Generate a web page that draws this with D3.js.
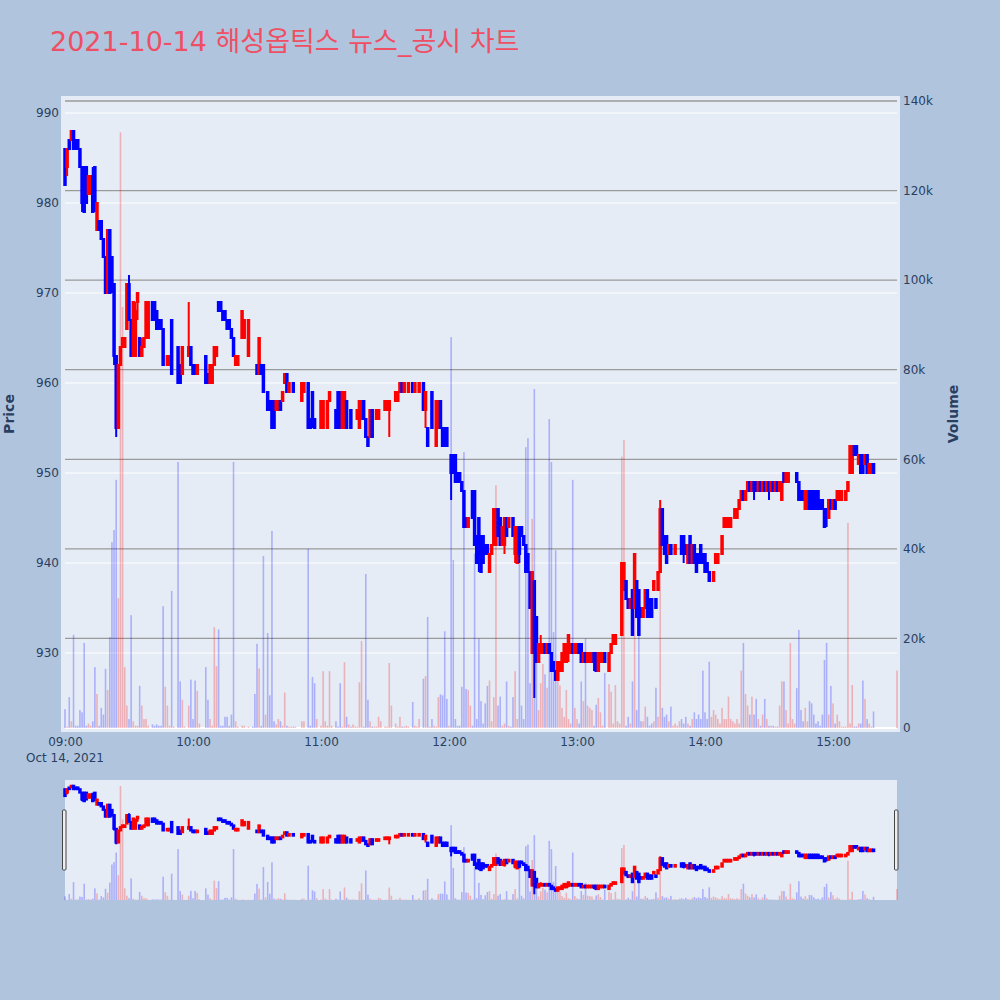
<!DOCTYPE html>
<html>
<head>
<meta charset="utf-8">
<script src="https://cdn.jsdelivr.net/npm/d3@7"></script>
<style>
    body { margin: 0; background: #b0c4de; }
    svg { display: block; font-family: "DejaVu Sans", "Noto Sans CJK KR", sans-serif; }
</style>
</head>
<body>
<svg id="chart" width="1000" height="1000"></svg>
<script>
// 1-minute candles from 09:00 (index = minutes after open), null = no trade
var opens = [
    986,984,987,987,988,987,987,986,984,984, 984,981,981,983,984,977,978,978,976,974,
    970,977,974,971,963,955,962,964,964,966, 971,967,963,963,969,965,963,964,965,965,
    null,969,969,968,967,967,966,962,962,962, 967,961,null,964,962,961,964,null,963,964,
    962,962,961,962,null,null,963,961,960,960, 962,963,969,969,968,968,967,967,966,965,
    962,962,null,965,965,null,963,null,965,963, 962,961,962,962,959,959,958,958,958,957,
    957,958,958,960,961,959,960,960,959,null, null,958,959,null,960,956,959,956,955,null,
    955,955,958,955,958,959,null,957,959,959, 955,955,958,957,957,957,957,956,955,956,
    958,956,954,954,957,957,956,956,957,null, 957,957,957,958,null,958,958,959,960,959,
    960,959,null,960,959,960,959,null,960,957, 955,955,959,955,953,955,958,955,955,955,
    953,952,952,952,950,950,949,948,945,944, 945,948,948,943,945,943,943,942,942,939,
    941,942,942,946,945,942,942,945,944,944, 945,941,940,944,944,943,942,941,939,930,
    938,934,929,930,930,931,930,931,930,929, 928,927,928,928,929,929,930,930,931,930,
    930,931,931,929,930,929,929,929,930,930, 928,929,929,930,null,928,930,931,931,932,
    932,932,937,938,936,935,937,935,938,937, 935,934,935,937,936,936,937,936,937,939,
    946,943,943,941,942,942,941,942,942,943, 943,942,940,943,940,942,941,941,942,941,
    941,940,939,939,938,940,940,941,941,944, 944,944,944,945,945,945,946,947,948,947,
    948,949,948,949,949,948,949,948,949,948, 949,948,949,948,949,948,947,950,949,949,
    950,950,950,950,949,948,948,946,946,948, 948,948,948,948,947,947,946,946,945,947,
    946,947,947,947,947,948,947,948,950,950, 953,953,951,952,952,951,952,950,950,951,
    null,null,null,null,null,null,null,null,null,null, 950
];
var highs = [
    986,986,987,988,988,987,987,986,984,984, 984,983,983,984,984,980,978,978,976,974,
    977,977,974,971,963,962,964,965,965,971, 972,967,969,969,970,965,965,965,969,969,
    null,969,969,968,967,967,966,962,963,963, 967,961,null,964,962,964,964,null,969,964,
    962,962,962,962,null,null,963,961,962,962, 964,964,969,969,968,968,967,967,966,965,
    963,963,null,968,967,null,967,null,965,963, 962,965,962,962,959,959,958,958,958,958,
    958,958,959,961,961,960,960,960,959,null, null,960,960,null,960,956,959,956,955,null,
    958,958,958,958,959,959,null,957,959,959, 959,959,958,957,957,957,957,957,958,958,
    958,956,954,957,957,957,957,957,957,null, 958,958,958,958,null,959,959,960,960,960,
    960,960,null,960,960,960,960,null,960,959, 955,955,959,955,958,958,958,955,955,955,
    953,952,952,952,950,950,949,948,945,945, 945,948,948,943,945,943,943,942,942,941,
    942,946,946,946,945,944,945,945,945,944, 945,944,944,944,944,943,942,941,939,939,
    938,934,931,932,931,931,931,931,930,929, 928,929,929,930,931,931,932,931,931,931,
    931,931,931,930,930,930,930,930,930,930, 930,930,930,930,null,930,931,932,932,932,
    932,940,940,938,936,936,937,941,938,937, 935,935,937,937,936,936,938,936,939,947,
    946,943,943,942,942,942,942,942,942,943, 943,942,942,943,942,942,941,941,942,941,
    941,940,939,939,939,941,941,941,943,945, 945,945,945,945,946,946,947,948,948,948,
    949,949,949,949,949,949,949,949,949,949, 949,949,949,949,949,949,949,950,950,950,
    950,950,950,950,949,948,948,948,948,948, 948,948,948,948,947,947,946,946,947,947,
    947,947,948,948,948,948,948,949,953,953, 953,953,952,952,952,952,952,951,951,951,
    null,null,null,null,null,null,null,null,null,null, 950
];
var lows = [
    982,983,986,987,986,986,986,984,979,979, 980,981,981,979,979,977,977,976,974,970,
    970,970,970,962,954,955,962,964,964,966, 967,963,963,963,967,963,963,964,965,965,
    null,967,967,966,966,966,962,962,962,962, 961,961,null,960,960,961,964,null,963,962,
    961,961,961,962,null,null,960,960,960,960, 962,963,968,968,967,967,966,966,965,963,
    962,962,null,965,965,null,963,null,965,963, 961,961,961,959,959,957,957,955,955,957,
    957,957,958,960,959,959,960,959,959,null, null,958,959,null,955,955,955,955,955,null,
    955,955,958,955,958,959,null,955,955,955, 955,955,955,957,955,957,957,956,955,956,
    956,954,953,954,954,957,956,956,957,null, 957,957,954,958,null,958,958,959,959,959,
    960,959,null,959,959,960,959,null,957,955, 953,955,955,955,953,955,955,953,953,953,
    953,947,950,949,949,949,948,944,944,944, 945,945,942,940,939,939,940,941,941,939,
    941,942,942,943,942,942,941,943,944,944, 943,940,940,940,943,942,939,939,935,930,
    925,929,929,930,930,930,930,930,928,928, 927,927,928,928,929,929,929,930,930,930,
    930,930,929,929,929,929,929,929,928,928, 928,929,929,929,null,928,930,931,931,932,
    932,932,937,936,935,935,932,935,934,932, 934,934,935,934,934,934,937,935,937,939,
    942,941,940,941,941,942,941,942,942,941, 940,941,940,940,940,940,939,940,940,940,
    939,939,938,939,938,940,940,941,941,944, 944,944,944,945,945,945,946,947,947,947,
    948,948,948,947,948,948,948,948,948,948, 947,948,948,948,948,948,947,949,949,949,
    950,950,950,949,947,947,947,946,946,946, 946,946,946,946,946,946,944,944,945,946,
    946,946,947,947,947,948,947,948,950,950, 952,952,951,950,950,951,950,950,950,950,
    null,null,null,null,null,null,null,null,null,null, 950
];
var closes = [
    982,986,986,988,986,986,986,984,980,979, 980,983,983,979,980,980,977,976,974,970,
    977,970,971,963,955,962,964,965,965,971, 967,963,969,968,970,963,964,965,969,969,
    null,967,967,966,966,966,962,962,963,963, 961,961,null,960,960,964,964,null,964,962,
    961,961,962,962,null,null,960,960,962,962, 964,964,968,968,967,967,966,966,965,963,
    963,963,null,968,967,null,967,null,965,963, 961,965,961,959,959,957,957,955,955,958,
    958,957,959,961,959,960,960,959,959,null, null,960,960,null,955,955,956,955,955,null,
    958,958,958,958,959,959,null,955,955,955, 959,959,955,957,955,957,957,957,958,958,
    956,954,953,957,954,957,957,957,957,null, 958,958,958,958,null,959,959,960,959,960,
    960,960,null,959,960,960,960,null,957,959, 953,955,955,955,958,958,955,953,953,953,
    953,950,950,949,949,949,948,944,944,945, 945,945,942,940,941,939,940,941,941,941,
    942,946,946,943,942,944,945,943,945,944, 943,944,944,941,943,942,939,939,935,939,
    930,929,931,931,931,930,931,930,928,928, 927,929,929,930,931,931,932,931,930,931,
    931,930,929,930,929,930,930,930,929,928, 930,930,930,929,null,930,931,932,932,932,
    932,940,940,936,935,936,932,941,934,932, 934,935,937,934,934,934,938,935,939,946,
    942,941,940,942,941,942,942,942,942,941, 941,941,942,940,942,940,939,940,940,940,
    939,939,938,939,939,941,941,941,943,945, 945,945,945,945,946,946,947,948,947,948,
    949,948,949,948,948,949,948,949,948,949, 948,949,948,949,948,949,949,949,950,950,
    950,950,950,949,947,947,947,948,948,946, 946,946,946,946,946,946,944,945,947,946,
    947,946,948,948,948,948,948,949,953,953, 952,952,952,950,950,952,950,951,951,950,
    null,null,null,null,null,null,null,null,null,null, 950
];
// traded volume per minute, thousand shares
var volumes = [
    4.2,0.3,6.9,1.5,20.8,0.5,0.5,4,3.5,19, 0.5,1,0.5,1.5,13.6,7.6,0.5,4.5,3,13.2,
    8.5,20.3,41.5,44.2,55.4,29,133,94,13.6,5, 2,25.2,1.5,0.5,0.5,9.4,5,2,2,0.5,
    null,0.8,0.5,0.8,0.5,0.5,27.2,9.2,5,0.5, 30.6,0.3,null,59.4,10.4,6.3,0.3,null,5,10.8,
    2,10.6,8.3,1,null,null,13.6,6.3,2,0.5, 22.5,13.8,22,0.5,0.5,2.5,2.5,0.5,3,59.4,
    1.5,0.3,null,0.5,0.5,null,0.3,null,0.3,7.6, 18.8,13.3,0.5,38.4,3,21.2,7.3,44,1.5,0.8,
    2,1.5,0.5,7.9,0.5,0.3,0.3,0.3,0.3,null, null,1.5,1.5,null,40,0.5,11.4,10,2,null,
    0.5,12.7,1.5,0.5,12.7,0.5,null,1.5,0.3,10, 0.3,14.7,2.5,0.8,0.3,0.8,0.3,0.3,10.2,19.4,
    0.3,34.4,6.3,1.5,0.3,0.3,0.3,2.5,1.5,null, 0.3,0.3,14.5,5,null,1,0.3,2.5,0.3,0.3,
    0.5,0.3,null,5.8,0.5,0.3,2,null,11,11.6, 24.8,0.3,2,0.5,0.3,6.9,7.5,7.3,21.6,6.5,
    0.5,87.3,37.5,2,0.5,0.5,9.2,61.6,8.7,8.5, 5,0.5,39,2,20,6,1,5.5,9.4,10.6,
    1.5,6.9,54.2,5,7,0.5,1,10.4,0.5,0.3, 6.9,12.7,2,36.8,5,2,62.7,64.7,10,46.7,
    75.7,21.4,4,10,14.3,12,9,69,59.4,21.4, 39.7,10.8,9.5,4.5,2.5,8.5,2,1,55.4,4.5,
    2,1,10.4,6,20,5,4.5,4,0.5,5.2, 6.7,3.5,0.5,12.3,null,9.8,8.1,1,9.6,1.5,
    1,60.6,64.3,0.5,2.5,1,10.4,38.4,4,21, 1.5,1.5,4.8,2.5,0.5,1,1.5,9,2.5,50.9,
    4.5,2.5,3,1.5,4.8,0.5,1,0.5,1.5,2, 1,2.5,1,0.5,2,3.5,2,3,2,12.8,
    3.5,2,14.8,2.5,4,3,2,1,4.5,2, 2,7,2,1.5,1,2,1,12.8,19,7.6,
    5,3,7,3,6.5,2,0.5,3,6.5,2, 0.5,0.5,0.5,0.3,0.3,5,10.4,10.4,4,1,
    19,2,1,8.9,21.9,4,1.5,4.5,1.5,6, 5.5,3,1,1.5,0.5,3,15.2,19,3,9.4,
    5.5,1,3,1.5,0.3,0.3,0.3,45.8,1,9.6, 0.3,0.3,1,1,10.6,6.5,2,1,0.3,3.7,
    null,null,null,null,null,null,null,null,null,null, 12.8
];

var priceTicks = [930, 940, 950, 960, 970, 980, 990];
var volumeTicks = [0, 20, 40, 60, 80, 100, 120, 140];
var hourTicks = [9, 10, 11, 12, 13, 14, 15];
var titleText = "2021-10-14 해성옵틱스 뉴스_공시 차트";

var upColor = "#ff0000";
var downColor = "#0000ff";
var textColor = "#2a3f5f";

var startTime = new Date(2021, 9, 14, 9, 0);
var endTime = new Date(2021, 9, 14, 15, 30);

// build candle objects, skip minutes without trades
var candles = [];
var prevClose = null;
opens.forEach(function (o, i) {
    if (o === null) return;
    var c = closes[i];
    var up = c > o || (c === o && prevClose !== null && c >= prevClose);
    candles.push({ t: d3.timeMinute.offset(startTime, i), o: o, h: highs[i], l: lows[i], c: c, v: volumes[i], up: up });
    prevClose = c;
});

var svg = d3.select("#chart");

// scales
var x = d3.scaleTime().domain([startTime, endTime]).range([65, 897]);
var yPrice = d3.scaleLinear().domain([921.667, 991.333]).range([728, 101]);
var yVol = d3.scaleLinear().domain([0, 140]).range([728, 101]);
var ySlidePrice = yPrice.copy().range([900, 780]);
var ySlideVol = yVol.copy().range([900, 780]);

var minuteW = x(d3.timeMinute.offset(startTime, 1)) - x(startTime);
var boxHalf = minuteW * 0.35;
var barW = minuteW * 0.75;

// plot background
svg.append("rect")
    .attr("x", 61).attr("y", 96)
    .attr("width", 839).attr("height", 636)
    .attr("fill", "#e5ecf6");

// price grid (white)
svg.append("g").selectAll("line")
    .data(priceTicks)
    .enter().append("line")
    .attr("x1", 65).attr("x2", 897)
    .attr("y1", function (d) { return yPrice(d); })
    .attr("y2", function (d) { return yPrice(d); })
    .attr("stroke", "#ffffff").attr("stroke-width", 1);

// volume grid (grey)
svg.append("g").selectAll("line")
    .data(volumeTicks.filter(function (d) { return d > 0; }))
    .enter().append("line")
    .attr("x1", 65).attr("x2", 897)
    .attr("y1", function (d) { return yVol(d); })
    .attr("y2", function (d) { return yVol(d); })
    .attr("stroke", "#9a9a9a").attr("stroke-width", 1.3);

// volume zero line
svg.append("line")
    .attr("x1", 65).attr("x2", 897)
    .attr("y1", yVol(0)).attr("y2", yVol(0))
    .attr("stroke", "#ffffff").attr("stroke-width", 2);

// volume bars + candles, reused for the range slider
function drawMarks(g, yP, yV) {
    g.append("g").selectAll("rect")
        .data(candles.filter(function (d) { return d.v; }))
        .enter().append("rect")
        .attr("x", function (d) { return x(d.t) - barW / 2; })
        .attr("width", barW)
        .attr("y", function (d) { return yV(d.v); })
        .attr("height", function (d) { return yV(0) - yV(d.v); })
        .attr("fill", function (d) { return d.up ? upColor : downColor; })
        .attr("fill-opacity", 0.25);

    var cg = g.append("g").selectAll("g")
        .data(candles)
        .enter().append("g")
        .attr("stroke", function (d) { return d.up ? upColor : downColor; })
        .attr("stroke-width", 2);

    cg.append("line")
        .attr("x1", function (d) { return x(d.t); })
        .attr("x2", function (d) { return x(d.t); })
        .attr("y1", function (d) { return yP(d.h); })
        .attr("y2", function (d) { return yP(d.l); });

    cg.append("rect")
        .attr("x", function (d) { return x(d.t) - boxHalf; })
        .attr("width", boxHalf * 2)
        .attr("y", function (d) { return yP(Math.max(d.o, d.c)); })
        .attr("height", function (d) { return Math.abs(yP(d.o) - yP(d.c)); })
        .attr("fill", function (d) { return d.up ? upColor : downColor; })
        .attr("fill-opacity", 0.5);
}

drawMarks(svg.append("g"), yPrice, yVol);

// left price axis
var leftAxis = svg.append("g")
    .attr("transform", "translate(65,0)")
    .call(d3.axisLeft(yPrice).tickValues(priceTicks).tickSize(0).tickPadding(6));
// right volume axis
var rightAxis = svg.append("g")
    .attr("transform", "translate(897,0)")
    .call(d3.axisRight(yVol).tickValues(volumeTicks).tickSize(0).tickPadding(6)
        .tickFormat(function (d) { return d === 0 ? "0" : d + "k"; }));
// time axis
var hourDates = hourTicks.map(function (h) { return new Date(2021, 9, 14, h, 0); });
var bottomAxis = svg.append("g")
    .attr("transform", "translate(0,728)")
    .call(d3.axisBottom(x).tickValues(hourDates).tickSize(0).tickPadding(9.5)
        .tickFormat(d3.timeFormat("%H:%M")));

[leftAxis, rightAxis, bottomAxis].forEach(function (a) {
    a.select(".domain").remove();
    a.selectAll("text")
        .attr("fill", textColor)
        .style("font-family", "'DejaVu Sans', sans-serif")
        .style("font-size", "12px");
});

svg.append("text")
    .attr("x", x(startTime)).attr("y", 762)
    .attr("text-anchor", "middle")
    .attr("fill", textColor)
    .style("font-size", "12px")
    .text(d3.timeFormat("%b %-d, %Y")(startTime));

// axis titles
svg.append("text")
    .attr("transform", "translate(14,414) rotate(-90)")
    .attr("text-anchor", "middle")
    .attr("fill", textColor)
    .style("font-size", "14px").style("font-weight", "bold")
    .text("Price");
svg.append("text")
    .attr("transform", "translate(958,414) rotate(-90)")
    .attr("text-anchor", "middle")
    .attr("fill", textColor)
    .style("font-size", "14px").style("font-weight", "bold")
    .text("Volume");

// title
svg.append("text")
    .attr("x", 50).attr("y", 51)
    .attr("fill", "#ef4f63")
    .style("font-size", "27px")
    .text(titleText);

// range slider
svg.append("rect")
    .attr("x", 65).attr("y", 780)
    .attr("width", 832).attr("height", 120)
    .attr("fill", "#e5ecf6");
drawMarks(svg.append("g"), ySlidePrice, ySlideVol);
[63, 895].forEach(function (hx) {
    svg.append("rect")
        .attr("x", hx - 0.5).attr("y", 810)
        .attr("width", 3.5).attr("height", 60)
        .attr("rx", 1)
        .attr("fill", "#eeeeee")
        .attr("stroke", "#444444").attr("stroke-width", 1);
});
</script>
</body>
</html>
